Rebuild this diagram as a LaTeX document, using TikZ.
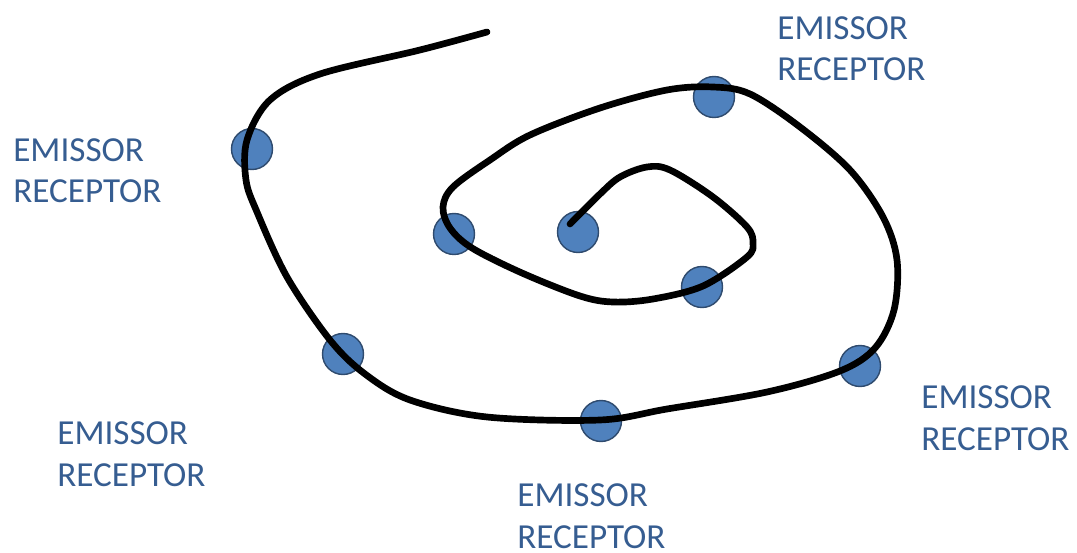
\documentclass[tikz,border=0pt]{standalone}
\usepackage{fontspec}
\setmainfont{Carlito}
\usepackage{tikz}

\definecolor{dotblue}{RGB}{79,129,189}
\definecolor{dotedge}{RGB}{47,75,110}
\definecolor{labelblue}{RGB}{54,93,145}

\tikzset{
	sensor/.style={circle, fill=dotblue, draw=dotedge, line width=0.8pt, minimum size=0.82cm, inner sep=0pt},
	tag/.style={anchor=base west, align=left, inner sep=0pt, text=labelblue, font=\fontsize{20}{23.5}\selectfont}
}

\begin{document}
\begin{tikzpicture}[x=0.02cm, y=-0.02cm]
	\useasboundingbox (0, 0) rectangle (1077, 553);

	\foreach \n/\x/\y in {a/252/149, b/714/97, c/454/234, d/578/232, e/702/287, f/343/354, g/601/421, h/860/366} {
		\node [sensor] (dot\n) at (\x, \y) {};
	}

	\draw [line width=3.8pt, line cap=round, line join=round] plot [smooth, tension=0.55] coordinates {
		(487, 32) (420, 50) (320, 74) (270, 100) (247, 140) (246, 180) (257, 212)
		(287, 277) (330, 340) (365, 374) (410, 400) (487, 417) (600, 420)
		(667, 409) (767, 392) (840, 371) (875, 348) (894, 310) (897, 260)
		(883, 217) (850, 170) (800, 127) (750, 94) (713, 87) (667, 90)
		(600, 108) (530, 135) (490, 160) (453, 187) (443, 207) (450, 228)
		(472, 248) (522, 273) (580, 296) (613, 302) (653, 299) (703, 286)
		(747, 257) (753, 243) (747, 227) (713, 197) (670, 170) (647, 167)
		(620, 177) (600, 194) (570, 224)
	};

	\node [tag] (lblA) at (13, 203) {EMISSOR\\RECEPTOR};
	\node [tag] (lblB) at (777, 81) {EMISSOR\\RECEPTOR};
	\node [tag] (lblC) at (57, 486) {EMISSOR\\RECEPTOR};
	\node [tag] (lblD) at (517, 548) {EMISSOR\\RECEPTOR};
	\node [tag] (lblE) at (921, 450) {EMISSOR\\RECEPTOR};
\end{tikzpicture}
\end{document}
